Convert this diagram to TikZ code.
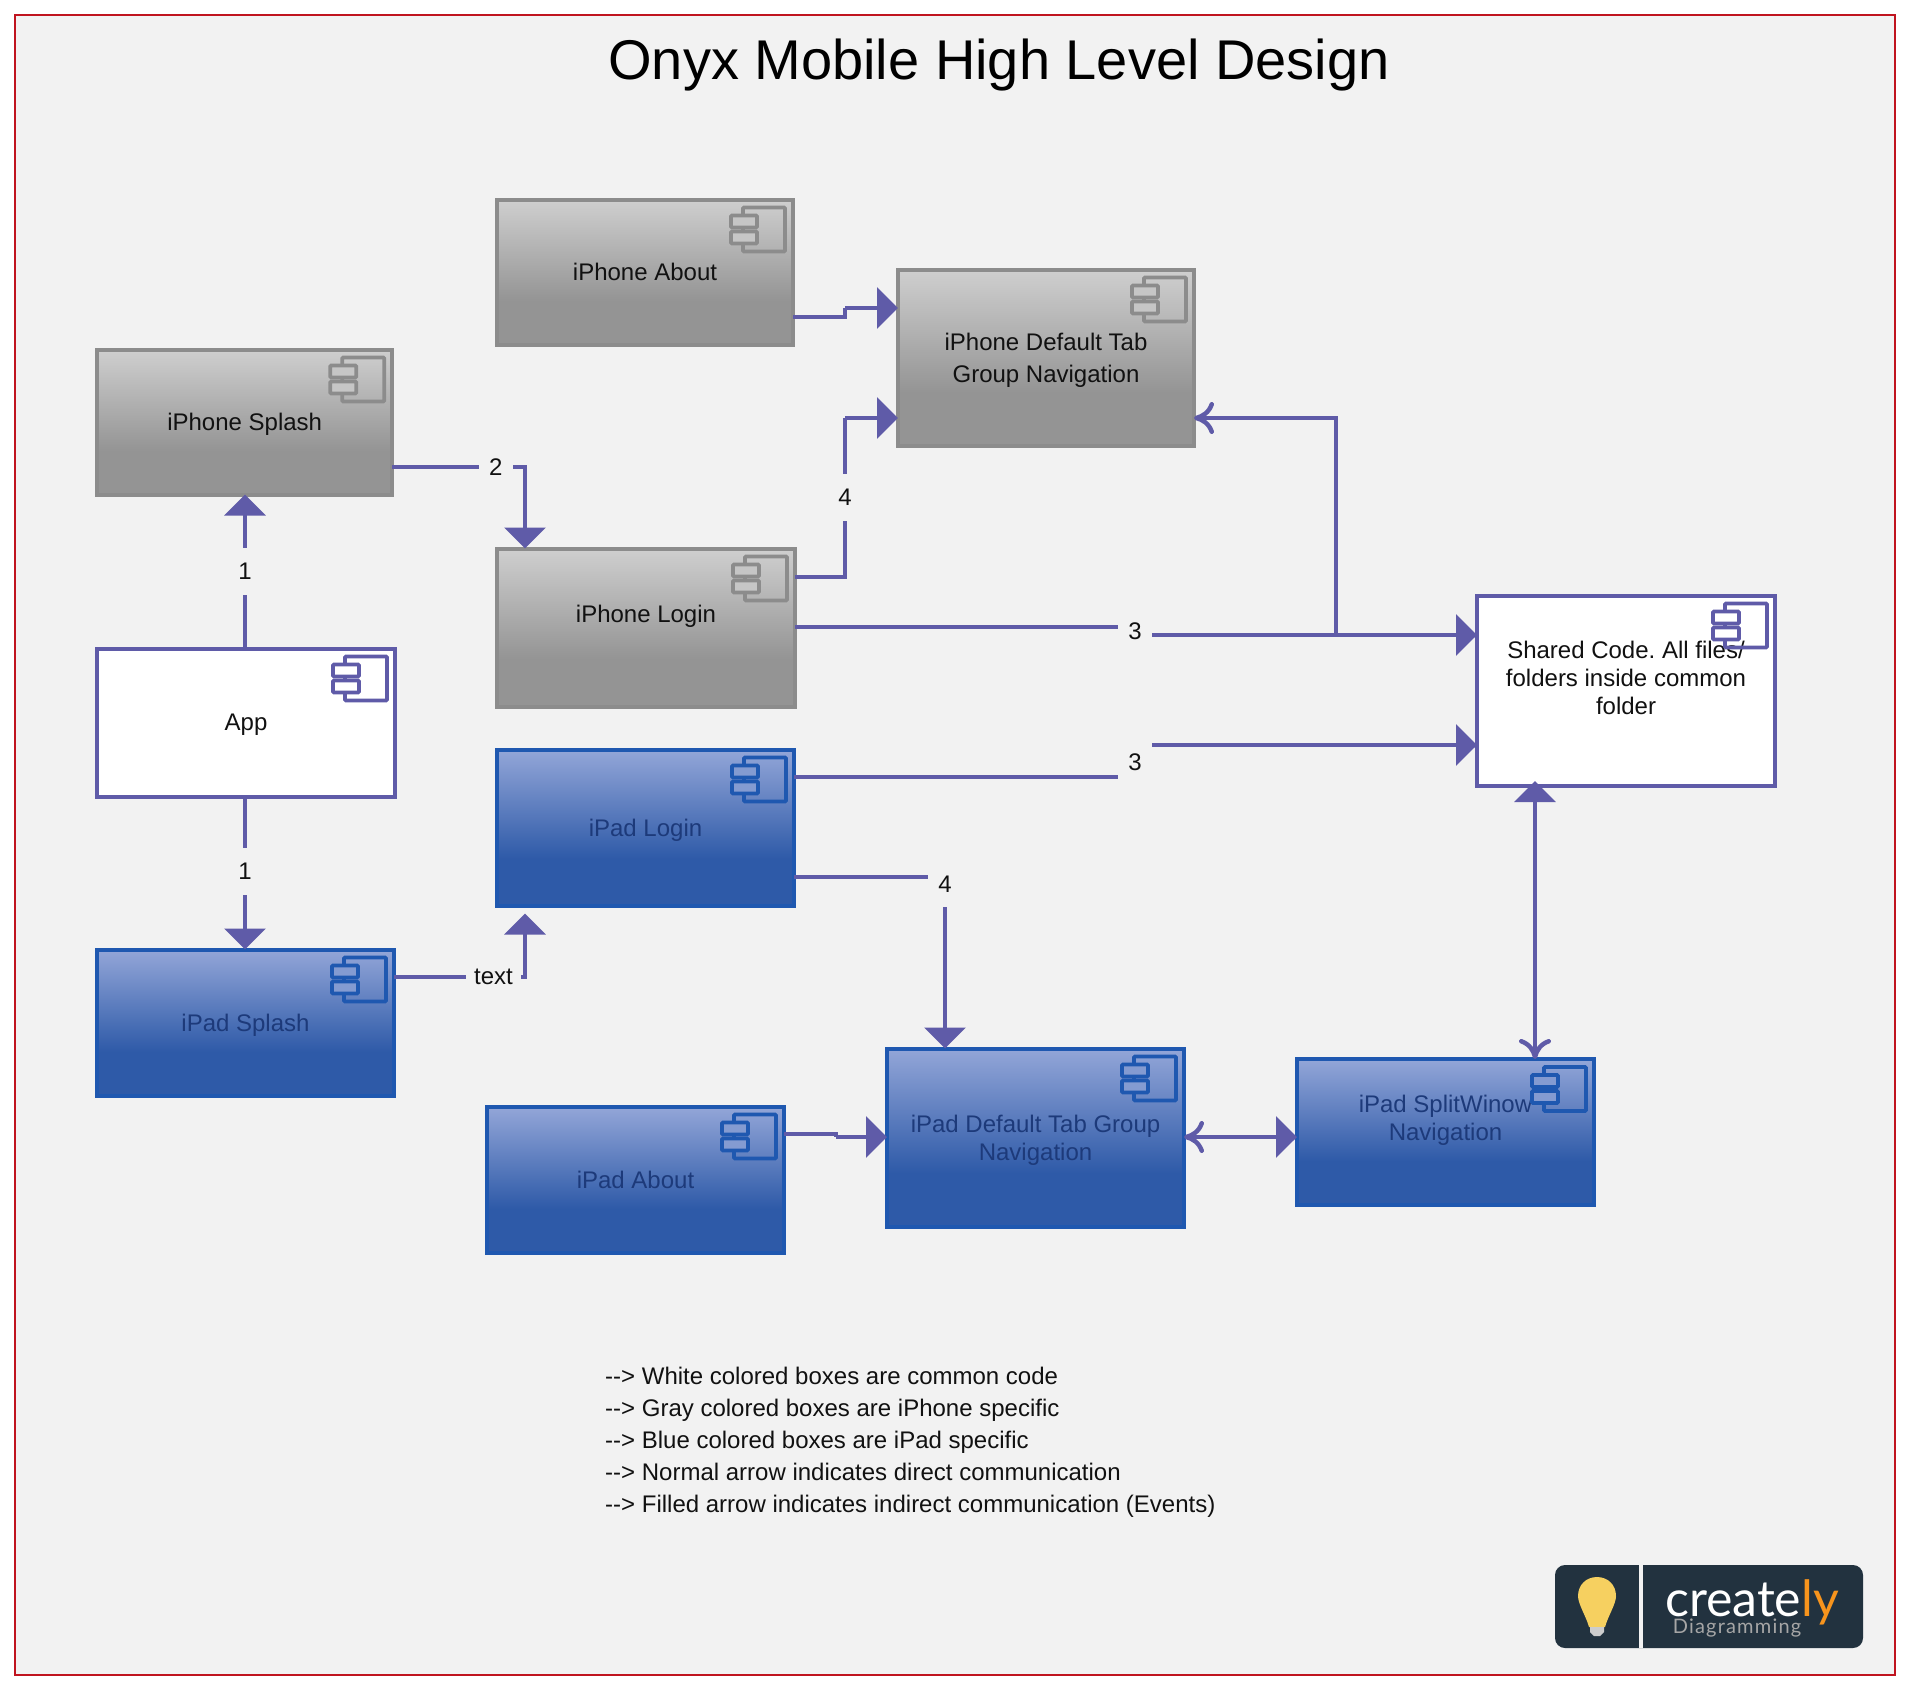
\documentclass[tikz,border=0pt]{standalone}
\usepackage{fontspec}
\setmainfont{Liberation Sans}
\newfontfamily\logofont{Lato}
\usetikzlibrary{arrows.meta}
\frenchspacing

\definecolor{bgcol}{HTML}{F2F2F2}
\definecolor{framecol}{HTML}{C0141F}
\definecolor{linkcol}{HTML}{5F5BA8}
\definecolor{graytop}{HTML}{CFCFCF}
\definecolor{graybot}{HTML}{949494}
\definecolor{grayline}{HTML}{8C8C8C}
\definecolor{bluetop}{HTML}{93A6D8}
\definecolor{bluebot}{HTML}{2E5AA8}
\definecolor{blueline}{HTML}{1F58B0}
\definecolor{bluetext}{HTML}{1D3A7A}
\definecolor{textcol}{HTML}{111111}
\definecolor{logocol}{HTML}{22323F}
\definecolor{bulbcol}{HTML}{F6D060}
\definecolor{logoorange}{HTML}{F7941D}

\pgfdeclareverticalshading{grayfade}{100bp}{color(0bp)=(graybot); color(40bp)=(graybot); color(75bp)=(graytop); color(100bp)=(graytop)}
\pgfdeclareverticalshading{bluefade}{100bp}{color(0bp)=(bluebot); color(40bp)=(bluebot); color(75bp)=(bluetop); color(100bp)=(bluetop)}

\tikzset{
    boxfont/.style={font=\fontsize{24}{28}\selectfont},
    boxbase/.style={rectangle, line width=4pt, outer sep=0pt, inner sep=0pt, align=center, text depth=0pt, boxfont},
    whitebox/.style={boxbase, draw=linkcol, fill=white, text=textcol},
    graybox/.style={boxbase, draw=grayline, shading=grayfade, text=textcol},
    bluebox/.style={boxbase, draw=blueline, shading=bluefade, text=bluetext},
    link/.style={draw=linkcol, line width=3.5pt},
    filledlink/.style={link, -{Triangle[length=21pt,width=41pt]}},
    openlink/.style={link, -{Computer Modern Rightarrow[length=20pt,width=32pt,line width=4.5pt]}},
    linklabel/.style={fill=bgcol, text=textcol, inner xsep=8pt, inner ysep=0pt, minimum width=34pt, minimum height=47pt, boxfont},
    pics/compicon/.style 2 args={code={
        \draw[line width=3.8pt, draw=#1, rounded corners=1pt] (-50,8) rectangle (-8,52);
        \draw[line width=3.8pt, draw=#1, fill=#2, rounded corners=1pt] (-62,16) rectangle (-36,28);
        \draw[line width=3.8pt, draw=#1, fill=#2, rounded corners=1pt] (-62,32) rectangle (-36,44);
    }}
}

\begin{document}
\begin{tikzpicture}[x=1pt, y=-1pt]
    \useasboundingbox (0,0) rectangle (1910,1690);
    \fill[white] (0,0) rectangle (1910,1690);
    \draw[framecol, line width=2pt, fill=bgcol] (15,15) rectangle (1895,1675);

    \node[text=black, font=\fontsize{56}{60}\selectfont] (title) at (999,65) {Onyx Mobile High Level Design};

    \node[graybox, minimum width=296pt, minimum height=145pt] (phoneabout) at (645,272) {iPhone About};
    \node[graybox, minimum width=295pt, minimum height=145pt] (phonesplash) at (244.7,422) {iPhone Splash};
    \node[graybox, minimum width=298pt, minimum height=158pt, label={[boxfont, text=textcol, yshift=11pt]center:iPhone Login}] (phonelogin) at (646,627.5) {};
    \node[graybox, minimum width=296pt, minimum height=176pt] (phonedefault) at (1046,357.5) {iPhone Default Tab\\[4pt]Group Navigation};
    \node[whitebox, minimum width=298pt, minimum height=148pt] (app) at (246,722.5) {App};
    \node[whitebox, minimum width=298pt, minimum height=190pt, label={[align=center, boxfont, text=textcol, yshift=13pt]center:Shared Code. All files/\\folders inside common\\folder}] (shared) at (1626,690.5) {};
    \node[bluebox, minimum width=297pt, minimum height=156pt] (padlogin) at (645.5,827.5) {iPad Login};
    \node[bluebox, minimum width=297pt, minimum height=146pt] (padsplash) at (245.5,1022.5) {iPad Splash};
    \node[bluebox, minimum width=297pt, minimum height=146pt] (padabout) at (635.5,1179.5) {iPad About};
    \node[bluebox, minimum width=297pt, minimum height=178pt] (paddefault) at (1035.5,1137.5) {iPad Default Tab Group\\Navigation};
    \node[bluebox, minimum width=297pt, minimum height=146pt, label={[align=center, boxfont, text=bluetext, yshift=12pt]center:iPad SplitWinow\\Navigation}] (padsplit) at (1445.5,1132) {};

    \pic at (phoneabout.north east) {compicon={grayline}{graytop!85!graybot}};
    \pic at (phonesplash.north east) {compicon={grayline}{graytop!85!graybot}};
    \pic at (phonelogin.north east) {compicon={grayline}{graytop!85!graybot}};
    \pic at (phonedefault.north east) {compicon={grayline}{graytop!85!graybot}};
    \pic at (app.north east) {compicon={linkcol}{white}};
    \pic at (shared.north east) {compicon={linkcol}{white}};
    \pic at (padlogin.north east) {compicon={blueline}{bluetop!85!bluebot}};
    \pic at (padsplash.north east) {compicon={blueline}{bluetop!85!bluebot}};
    \pic at (padabout.north east) {compicon={blueline}{bluetop!85!bluebot}};
    \pic at (paddefault.north east) {compicon={blueline}{bluetop!85!bluebot}};
    \pic at (padsplit.north east) {compicon={blueline}{bluetop!85!bluebot}};

    \coordinate (aboutbend) at (845,308);
    \coordinate (loginbend) at (845,418);
    \coordinate (sharedtop) at (1135,635);
    \coordinate (sharedlow) at (1135,745);
    \coordinate (branch) at (1336,635);
    \coordinate (padbend) at (836,1137);

    \draw[filledlink] ([xshift=-1pt]app.north) -- node[linklabel, pos=0.5]{1} ([xshift=-1pt]app.north |- phonesplash.south);
    \draw[filledlink] ([xshift=-1pt]app.south) -- node[linklabel, pos=0.49]{1} ([xshift=-1pt]app.south |- padsplash.north);
    \draw[filledlink] ([yshift=-45pt]phonesplash.east) -| node[linklabel, pos=0.39]{2} ([xshift=-121pt]phonelogin.north);
    \draw[filledlink] ([yshift=45.5pt]padsplash.east) -| node[linklabel, pos=0.38]{text} ([xshift=-120.5pt,yshift=-8pt]padlogin.south);
    \draw[link] ([yshift=-45pt]phoneabout.east) -| (aboutbend);
    \draw[filledlink] (aboutbend) -- (aboutbend -| phonedefault.west);
    \draw[link] ([yshift=50.5pt]phonelogin.east) -| node[linklabel, pos=0.75]{4} (loginbend);
    \draw[filledlink] (loginbend) -- (loginbend -| phonedefault.west);
    \draw[filledlink] (sharedtop) -- (sharedtop -| shared.west);
    \draw[link] ([yshift=0.5pt]phonelogin.east) -| node[linklabel, pos=0.75]{3} (sharedtop);
    \draw[openlink] (branch) |- ([yshift=-60.5pt]phonedefault.east);
    \draw[filledlink] (sharedlow) -- (sharedlow -| shared.west);
    \draw[link] ([yshift=50.5pt]padlogin.east) -| node[linklabel, pos=0.73]{3} (sharedlow);
    \draw[filledlink] ([yshift=-49.5pt]padlogin.east) -| node[linklabel, pos=0.52]{4} ([xshift=-90.5pt]paddefault.north);
    \draw[link] ([yshift=45.5pt]padabout.east) -| (padbend);
    \draw[filledlink] (padbend) -- (padbend -| paddefault.west);
    \draw[link, {Computer Modern Rightarrow[length=20pt,width=32pt,line width=4.5pt]}-{Triangle[length=21pt,width=41pt]}] ([yshift=0.5pt]paddefault.east) -- ([yshift=-5pt]padsplit.west);
    \draw[link, {Triangle[length=21pt,width=41pt]}-{Computer Modern Rightarrow[length=20pt,width=32pt,line width=4.5pt]}] ([xshift=-91pt,yshift=4.5pt]shared.south) -- ([xshift=89.5pt]padsplit.north);

    \node[anchor=north west, align=left, text=textcol, inner sep=0pt, font=\fontsize{24}{32}\selectfont] (legend) at (605,1367) {-{}-> White colored boxes are common code\\-{}-> Gray colored boxes are iPhone specific\\-{}-> Blue colored boxes are iPad specific\\-{}-> Normal arrow indicates direct communication\\-{}-> Filled arrow indicates indirect communication (Events)};

    \fill[logocol, rounded corners=10pt] (1555,1565) rectangle (1863,1648);
    \fill[bgcol] (1639,1565) rectangle (1643,1648);
    \fill[bulbcol] (1597,1577) .. controls (1608,1577) and (1616,1585) .. (1616,1596) .. controls (1616,1604) and (1608,1616) .. (1605,1627) -- (1589,1627) .. controls (1586,1616) and (1578,1604) .. (1578,1596) .. controls (1578,1585) and (1586,1577) .. (1597,1577) -- cycle;
    \fill[gray!40] (1590,1627) -- (1604,1627) -- (1604,1632) -- (1600,1636) -- (1594,1636) -- (1590,1632) -- cycle;
    \node[text=white, inner sep=0pt, font=\logofont\fontsize{50}{50}\selectfont] (logotext) at (1752,1602) {create\textcolor{logoorange}{ly}};
    \node[text=gray!70, inner sep=0pt, font={\logofont\addfontfeatures{LetterSpace=6}\fontsize{20}{20}\selectfont}] (logosub) at (1737,1628) {Diagramming};
\end{tikzpicture}
\end{document}
